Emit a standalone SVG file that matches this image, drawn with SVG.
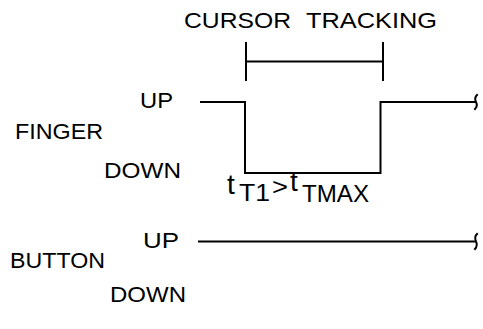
<svg xmlns="http://www.w3.org/2000/svg" width="483" height="329" viewBox="0 0 483 329">
<style>
text{font-family:"Liberation Sans",Arial,sans-serif;font-size:22px;fill:#000}
.c{font-size:23px}
.t{font-size:28px}
.ln{fill:none;stroke:#000;stroke-width:2;stroke-linecap:square}
</style>
<rect width="483" height="329" fill="#fff"/>
<g id="title"><text y="28"><tspan x="184" textLength="107" lengthAdjust="spacingAndGlyphs">CURSOR</tspan> <tspan x="306" textLength="131" lengthAdjust="spacingAndGlyphs">TRACKING</tspan></text></g>
<g id="finger-labels">
<text x="15" y="139" textLength="88" lengthAdjust="spacingAndGlyphs">FINGER</text>
<text x="140" y="108" textLength="33" lengthAdjust="spacingAndGlyphs">UP</text>
<text x="104" y="178" textLength="77" lengthAdjust="spacingAndGlyphs">DOWN</text>
</g>
<g id="button-labels">
<text x="10" y="268" textLength="95" lengthAdjust="spacingAndGlyphs">BUTTON</text>
<text x="143" y="248" textLength="36" lengthAdjust="spacingAndGlyphs">UP</text>
<text x="110" y="302" textLength="76" lengthAdjust="spacingAndGlyphs">DOWN</text>
</g>
<g id="condition"><text class="c"><tspan class="t" x="227" y="194">t</tspan><tspan x="239" y="201" textLength="31" lengthAdjust="spacingAndGlyphs">T1</tspan><tspan x="272" y="195" textLength="16" lengthAdjust="spacingAndGlyphs">&gt;</tspan><tspan class="t" x="290" y="191">t</tspan><tspan x="302" y="202" textLength="67" lengthAdjust="spacingAndGlyphs">TMAX</tspan></text></g>
<g id="connectors">
<path class="ln" d="M246,43V80M383,43V80M246,61.5H383"/>
<path class="ln" d="M201,102H245V173H380.5V102H475"/>
<path class="ln" stroke-width="1.6" d="M477,95q-3,3 -1,7q2,4 -1,7"/>
<path class="ln" d="M199,241.5H475"/>
<path class="ln" stroke-width="1.6" d="M477,234q-3,3 -1,7.5q2,4 -1,7.5"/>
</g>
</svg>
